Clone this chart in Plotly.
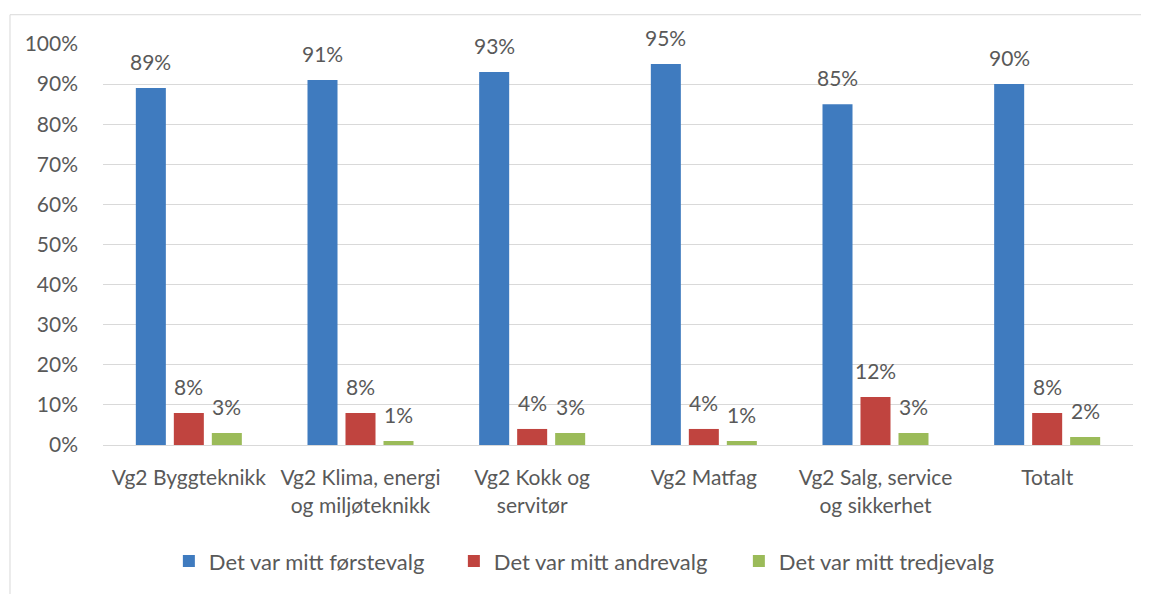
import plotly.graph_objects as go

categories = ["Vg2 Byggteknikk", "Vg2 Klima, energi<br>og miljøteknikk", "Vg2 Kokk og<br>servitør",
              "Vg2 Matfag", "Vg2 Salg, service<br>og sikkerhet", "Totalt"]
series_names = ["Det var mitt førstevalg", "Det var mitt andrevalg", "Det var mitt tredjevalg"]
forstevalg = [0.89, 0.91, 0.93, 0.95, 0.85, 0.90]
andrevalg = [0.08, 0.08, 0.04, 0.04, 0.12, 0.08]
tredjevalg = [0.03, 0.01, 0.03, 0.01, 0.03, 0.02]
y_ticks = [i / 10 for i in range(11)]
y_tick_labels = [f"{i * 10}%" for i in range(11)]

colors = ["#3F7BBF", "#C0443F", "#9BBB59"]
FONT = "Lato, Carlito, Calibri, sans-serif"
TXT = "#595959"
FS = 21

fig = go.Figure()
annotations = []
all_series = [forstevalg, andrevalg, tredjevalg]
for idx, (name, vals, col) in enumerate(zip(series_names, all_series, colors)):
    fig.add_trace(go.Bar(
        x=categories, y=vals, name=name, marker_color=col, marker_line_width=0,
    ))
    for cat, v in zip(categories, vals):
        annotations.append(dict(
            x=cat, y=v, xref="x", yref="y", text=f"{round(v * 100)}%", showarrow=False,
            yanchor="bottom", xanchor="center", xshift=(idx - 1) * 38, yshift=12,
            font=dict(family=FONT, size=FS, color=TXT),
        ))

W, H = 1141, 586
fig.update_layout(
    width=W, height=H,
    margin=dict(l=95, r=16, t=36, b=146),
    paper_bgcolor="white", plot_bgcolor="white",
    barmode="group", bargap=0.336, bargroupgap=0.21,
    font=dict(family=FONT, size=FS, color=TXT),
    showlegend=True,
    legend=dict(orientation="h", x=0.479, xanchor="center", y=-0.29, yanchor="middle",
                font=dict(family=FONT, size=22, color=TXT), traceorder="normal",
                entrywidth=240, entrywidthmode="pixels"),
    annotations=annotations,
    shapes=[dict(type="rect", xref="paper", yref="paper", x0=-0.0903, x1=1.05, y0=-0.4, y1=1.073,
                 line=dict(color="#D9D9D9", width=1), fillcolor="rgba(0,0,0,0)", layer="below")],
)
fig.update_yaxes(range=[0, 1.0], tickvals=y_ticks, ticktext=y_tick_labels, showgrid=True,
                 gridcolor="#D9D9D9", gridwidth=1.3, zeroline=False, showline=False,
                 ticks="", ticklabelstandoff=24, tickfont=dict(size=FS, color=TXT))
fig.update_xaxes(showline=True, linecolor="#D9D9D9", linewidth=1.3, ticks="",
                 tickfont=dict(size=FS, color=TXT), ticklabelstandoff=14)

fig.write_html("out.html")
